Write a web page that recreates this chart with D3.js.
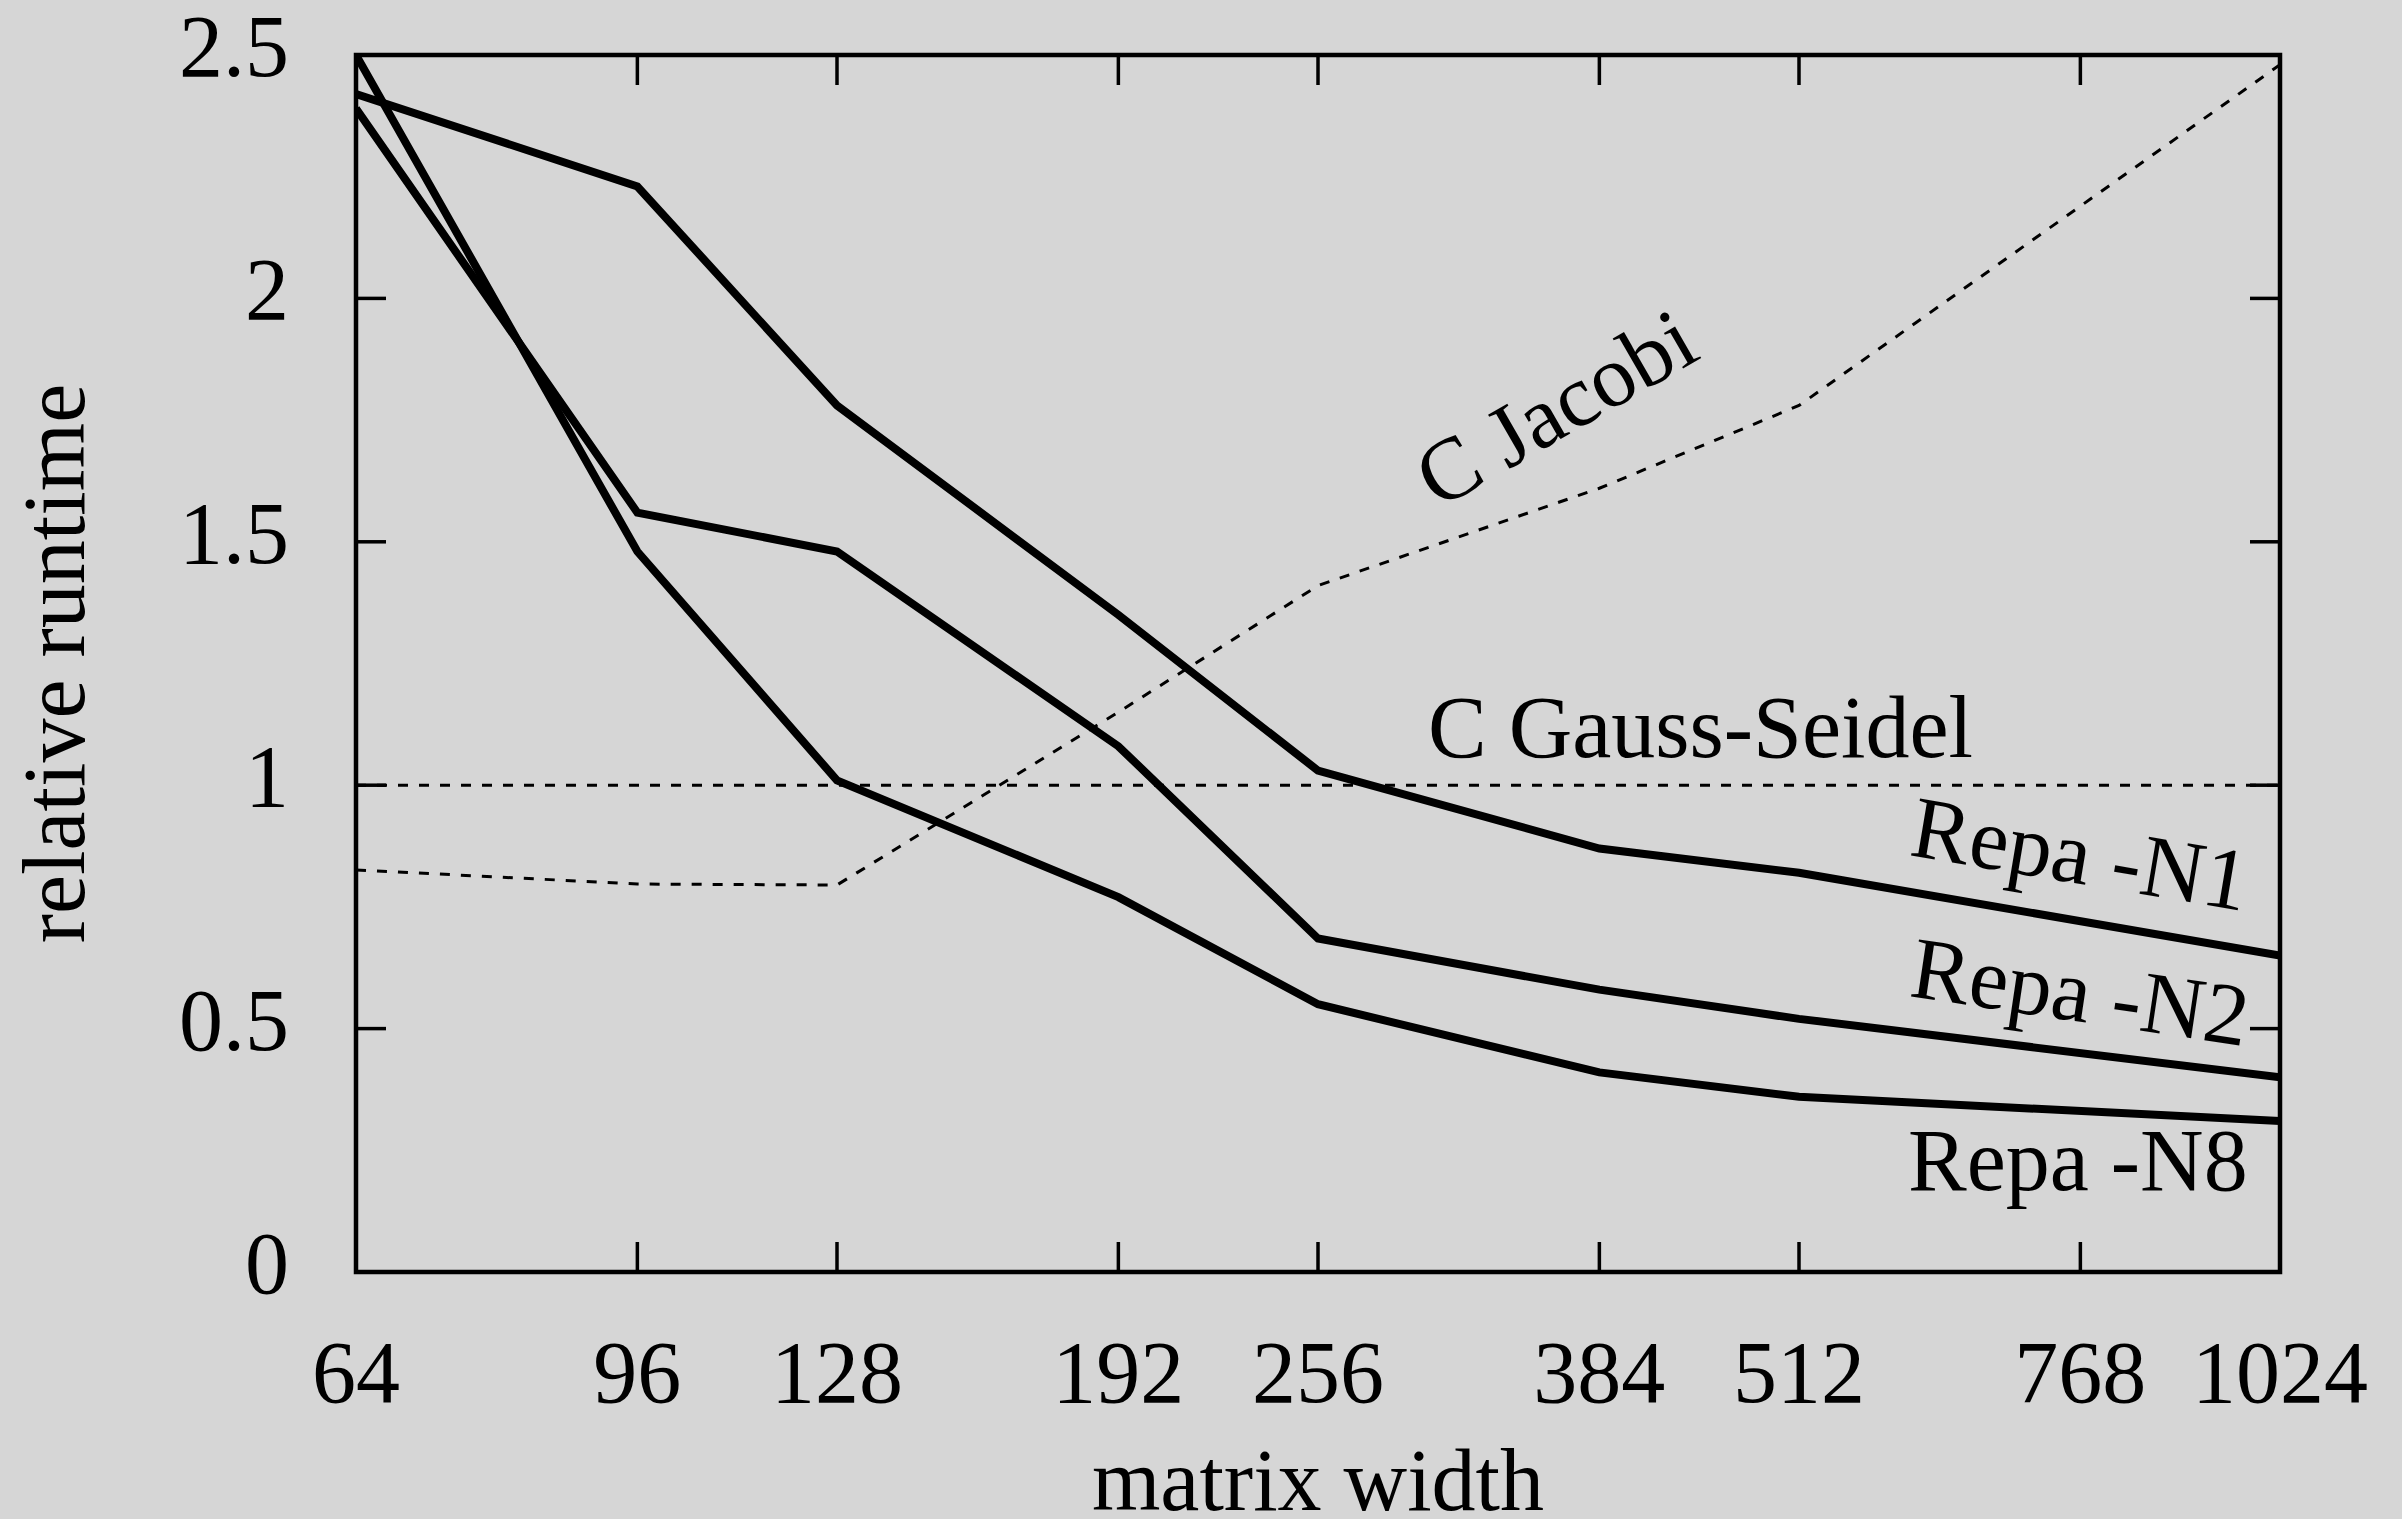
<!DOCTYPE html>
<html>
<head>
<meta charset="utf-8">
<script src="https://cdn.jsdelivr.net/npm/d3@7"></script>
<style>
  body { margin: 0; background: #d6d6d6; }
  svg { display: block; }
  text { font-family: "Liberation Serif", "DejaVu Serif", serif; fill: #000; }
</style>
</head>
<body>
<svg id="chart" width="2402" height="1519"></svg>
<script>
// matrix widths on the x axis
var widths = [64, 96, 128, 192, 256, 384, 512, 1024];
var xTicks = [64, 96, 128, 192, 256, 384, 512, 768, 1024];
var yTicks = [0, 0.5, 1, 1.5, 2, 2.5];

// relative runtime per width
var repaN1 = [2.42, 2.23, 1.78, 1.35, 1.03, 0.87, 0.82, 0.65];
var repaN2 = [2.39, 1.56, 1.48, 1.08, 0.685, 0.58, 0.52, 0.40];
var repaN8 = [2.50, 1.48, 1.01, 0.77, 0.55, 0.41, 0.36, 0.31];
var cJacobi = [0.826, 0.797, 0.795, 1.15, 1.41, 1.61, 1.78, 2.48];
var cGauss = [1, 1, 1, 1, 1, 1, 1, 1];

var svg = d3.select("#chart");
// note: "top" is taken by window.top, so plot edges get their own names
var pLeft = 356, pRight = 2280, pTop = 55, pBottom = 1272;

var x = d3.scaleLog().base(2).domain([64, 1024]).range([pLeft, pRight]);
var y = d3.scaleLinear().domain([0, 2.5]).range([pBottom, pTop]);

svg.append("rect").attr("width", 2402).attr("height", 1519).attr("fill", "#d6d6d6");

svg.append("clipPath").attr("id", "plotclip")
  .append("rect").attr("x", pLeft).attr("y", pTop)
  .attr("width", pRight - pLeft).attr("height", pBottom - pTop);

// ticks pointing inward on all four sides
var tickLen = 30;
var tickG = svg.append("g").attr("stroke", "#000").attr("stroke-width", 3.5);
xTicks.forEach(function(v) {
  tickG.append("line").attr("x1", x(v)).attr("x2", x(v)).attr("y1", pBottom).attr("y2", pBottom - tickLen);
  tickG.append("line").attr("x1", x(v)).attr("x2", x(v)).attr("y1", pTop).attr("y2", pTop + tickLen);
});
yTicks.forEach(function(v) {
  tickG.append("line").attr("x1", pLeft).attr("x2", pLeft + tickLen).attr("y1", y(v)).attr("y2", y(v));
  tickG.append("line").attr("x1", pRight).attr("x2", pRight - tickLen).attr("y1", y(v)).attr("y2", y(v));
});

// tick labels
svg.append("g").selectAll("text")
  .data(xTicks).enter().append("text")
  .attr("x", function(d) { return x(d); })
  .attr("y", 1402)
  .attr("text-anchor", "middle")
  .attr("font-size", 88)
  .text(function(d) { return d; });

svg.append("g").selectAll("text")
  .data(yTicks).enter().append("text")
  .attr("x", 289)
  .attr("y", function(d) { return y(d) + 21; })
  .attr("text-anchor", "end")
  .attr("font-size", 88)
  .text(function(d) { return d; });

// axis titles
svg.append("text")
  .attr("x", (pLeft + pRight) / 2).attr("y", 1510)
  .attr("text-anchor", "middle").attr("font-size", 88)
  .text("matrix width");

svg.append("text")
  .attr("transform", "translate(84," + ((pTop + pBottom) / 2) + ") rotate(-90)")
  .attr("text-anchor", "middle").attr("font-size", 88)
  .text("relative runtime");

// series
var line = d3.line()
  .x(function(d, i) { return x(widths[i]); })
  .y(function(d) { return y(d); });

var plot = svg.append("g").attr("clip-path", "url(#plotclip)");

[cGauss, cJacobi].forEach(function(s) {
  plot.append("path").attr("d", line(s))
    .attr("fill", "none").attr("stroke", "#000")
    .attr("stroke-width", 3).attr("stroke-dasharray", "10,11");
});

[repaN1, repaN2, repaN8].forEach(function(s) {
  plot.append("path").attr("d", line(s))
    .attr("fill", "none").attr("stroke", "#000")
    .attr("stroke-width", 8).attr("stroke-linejoin", "miter");
});

// frame
svg.append("rect")
  .attr("x", pLeft).attr("y", pTop)
  .attr("width", pRight - pLeft).attr("height", pBottom - pTop)
  .attr("fill", "none").attr("stroke", "#000").attr("stroke-width", 4.5);

// curve labels
var labels = [
  { t: "C Jacobi", x: 1438, y: 510, r: -30 },
  { t: "C Gauss-Seidel", x: 1428, y: 757, r: 0 },
  { t: "Repa -N1", x: 1908, y: 855, r: 9.5 },
  { t: "Repa -N2", x: 1908, y: 996, r: 8.5 },
  { t: "Repa -N8", x: 1908, y: 1190, r: 0 }
];
svg.append("g").selectAll("text")
  .data(labels).enter().append("text")
  .attr("transform", function(d) { return "translate(" + d.x + "," + d.y + ") rotate(" + d.r + ")"; })
  .attr("font-size", 88)
  .text(function(d) { return d.t; });
</script>
</body>
</html>
